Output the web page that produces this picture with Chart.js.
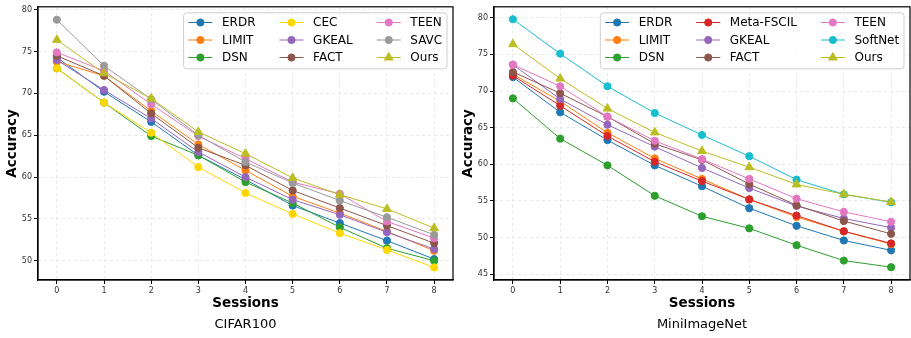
<!DOCTYPE html>
<html>
<head>
<meta charset="utf-8">
<script src="https://cdn.jsdelivr.net/npm/chart.js@4.4.1/dist/chart.umd.min.js"></script>
<style>
  body { margin: 0; background: #fff; }
  .panel { position: absolute; top: 0; width: 455px; height: 338px; }
</style>
</head>
<body>
<div class="panel" style="left:0"><canvas id="cifarChart" width="455" height="338"></canvas></div>
<div class="panel" style="left:456px"><canvas id="miniChart" width="455" height="338"></canvas></div>
<script>
// sessions on the x axis
const sessions = [0, 1, 2, 3, 4, 5, 6, 7, 8];

// CIFAR100 accuracies
const cifarMethods = ['ERDR', 'LIMIT', 'DSN', 'CEC', 'GKEAL', 'FACT', 'TEEN', 'SAVC', 'Ours'];
const cifarErdr  = [74.3, 70.2, 66.6, 62.6, 59.7, 56.6, 54.5, 52.4, 50.2];
const cifarLimit = [73.8, 72.1, 67.9, 63.9, 60.8, 57.7, 55.7, 53.5, 51.2];
const cifarDsn   = [73.0, 68.9, 64.9, 62.6, 59.4, 56.9, 54.0, 51.5, 50.0];
const cifarCec   = [73.0, 68.9, 65.3, 61.2, 58.1, 55.6, 53.3, 51.3, 49.2];
const cifarGkeal = [74.0, 70.4, 67.0, 63.0, 60.0, 57.3, 55.5, 53.4, 51.4];
const cifarFact  = [74.5, 72.1, 67.6, 63.5, 61.4, 58.4, 56.3, 54.2, 52.1];
const cifarTeen  = [74.9, 72.7, 68.7, 64.9, 62.2, 59.4, 58.0, 54.7, 52.7];
const cifarSavc  = [78.8, 73.3, 69.3, 65.0, 61.8, 59.3, 57.2, 55.2, 53.1];
const cifarOurs  = [76.4, 72.4, 69.4, 65.4, 62.8, 59.9, 57.9, 56.2, 53.9];
const cifarYTicks = [50, 55, 60, 65, 70, 75, 80];

// MiniImageNet accuracies
const miniMethods = ['ERDR', 'LIMIT', 'DSN', 'Meta-FSCIL', 'GKEAL', 'FACT', 'TEEN', 'SoftNet', 'Ours'];
const miniErdr    = [71.9, 67.1, 63.3, 59.85, 57.0, 54.0, 51.6, 49.6, 48.25];
const miniLimit   = [72.3, 68.6, 64.3, 60.8, 58.0, 55.2, 52.8, 50.85, 49.1];
const miniDsn     = [69.0, 63.5, 59.85, 55.7, 52.9, 51.25, 48.95, 46.85, 45.95];
const miniMeta    = [72.1, 68.0, 63.85, 60.35, 57.7, 55.2, 53.0, 50.85, 49.2];
const miniGkeal   = [73.6, 68.9, 65.4, 62.4, 59.5, 56.75, 54.3, 52.6, 51.35];
const miniFact    = [72.6, 69.7, 66.5, 62.8, 60.6, 57.3, 54.4, 52.25, 50.5];
const miniTeen    = [73.6, 70.65, 66.5, 63.2, 60.7, 58.0, 55.3, 53.5, 52.15];
const miniSoftnet = [79.8, 75.1, 70.65, 67.0, 64.0, 61.1, 57.9, 55.9, 54.8];
const miniOurs    = [76.4, 71.7, 67.6, 64.35, 61.8, 59.6, 57.25, 55.9, 54.85];
const miniYTicks = [45, 50, 55, 60, 65, 70, 75, 80];

const methodColors = {
    'ERDR': '#1f77b4', 'LIMIT': '#ff7f0e', 'DSN': '#2ca02c', 'CEC': '#ffd700',
    'Meta-FSCIL': '#d62728', 'GKEAL': '#9467bd', 'FACT': '#8c564b', 'TEEN': '#e377c2',
    'SAVC': '#9a9a9a', 'SoftNet': '#17becf', 'Ours': '#bcbd22'
};

const FONT = "'DejaVu Sans', sans-serif";
Chart.defaults.font.family = FONT;

// frame, matplotlib-like legend and caption
const decorPlugin = {
    id: 'decor',
    afterDraw(chart, args, opts) {
        const ctx = chart.ctx;
        const area = chart.chartArea;
        ctx.save();
        ctx.strokeStyle = '#000';
        ctx.lineWidth = 1.2;
        ctx.strokeRect(area.left, area.top, area.right - area.left, area.bottom - area.top);

        // legend: 3 rows, filled column by column
        const fs = 12;
        ctx.font = fs + 'px ' + FONT;
        const ds = chart.data.datasets;
        const cols = [];
        for (let c = 0; c * 3 < ds.length; c++) cols.push(ds.slice(c * 3, c * 3 + 3));
        const pad = 0.4 * fs, hl = 2 * fs, htp = 0.8 * fs, csp = 2 * fs, rowH = 17.5;
        const colW = cols.map(col => hl + htp + Math.max(...col.map(d => ctx.measureText(d.label).width)));
        const boxW = 2 * pad + colW.reduce((a, b) => a + b, 0) + csp * (cols.length - 1);
        const boxH = 56;
        const right = area.right - 0.5 * fs;
        const top = area.top + 0.5 * fs;
        const left = right - boxW;
        ctx.beginPath();
        ctx.roundRect(left, top, boxW, boxH, 3);
        ctx.fillStyle = 'rgba(255,255,255,0.8)';
        ctx.fill();
        ctx.strokeStyle = '#d0d0d0';
        ctx.lineWidth = 1;
        ctx.stroke();

        let x = left + pad;
        cols.forEach((col, c) => {
            col.forEach((d, r) => {
                const y = top + 9.7 + r * rowH;
                ctx.strokeStyle = d.borderColor;
                ctx.fillStyle = d.borderColor;
                ctx.lineWidth = 1;
                ctx.beginPath();
                ctx.moveTo(x, y);
                ctx.lineTo(x + hl, y);
                ctx.stroke();
                Chart.helpers.drawPoint(ctx, {
                    pointStyle: d.pointStyle, radius: d.pointRadius, rotation: 0, borderWidth: 1
                }, x + hl / 2, y);
                ctx.fillStyle = '#000';
                ctx.textBaseline = 'middle';
                ctx.textAlign = 'left';
                ctx.fillText(d.label, x + hl + htp, y + 0.5);
            });
            x += colW[c] + csp;
        });

        // caption under the axis
        ctx.font = '13px ' + FONT;
        ctx.fillStyle = '#000';
        ctx.textAlign = 'center';
        ctx.textBaseline = 'middle';
        ctx.fillText(opts.caption, (area.left + area.right) / 2, 325);
        ctx.restore();
    }
};

function makeChart(canvasId, caption, methods, series, yTicks, yMin, yMax, padRight) {
    const canvas = document.getElementById(canvasId);
    if (!canvas) {
        console.error('canvas not found: ' + canvasId);
        return;
    }
    const datasets = methods.map((name, i) => ({
        label: name,
        data: series[i].map((v, j) => ({ x: sessions[j], y: v })),
        borderColor: methodColors[name],
        backgroundColor: methodColors[name],
        borderWidth: 1,
        pointStyle: name === 'Ours' ? 'triangle' : 'circle',
        pointRadius: name === 'Ours' ? 5 : 3.6,
        pointBorderWidth: 1,
        tension: 0,
        order: methods.length - 1 - i // later series on top
    }));

    new Chart(canvas.getContext('2d'), {
        type: 'line',
        data: { datasets: datasets },
        options: {
            responsive: false,
            animation: false,
            layout: { autoPadding: false, padding: { top: 4, right: padRight, bottom: 22, left: 0 } },
            plugins: {
                legend: { display: false },
                tooltip: { enabled: false },
                decor: { caption: caption }
            },
            scales: {
                x: {
                    type: 'linear',
                    min: -0.4,
                    max: 8.4,
                    afterBuildTicks: s => { s.ticks = sessions.map(v => ({ value: v })); },
                    afterFit: s => { s.height = 36; },
                    ticks: { color: '#333', font: { size: 8 }, padding: 2, maxRotation: 0 },
                    grid: { color: '#e2e2e2', lineWidth: 0.8, tickColor: '#000', tickLength: 4, tickWidth: 1 },
                    border: { color: '#000', width: 1.2, dash: [3, 3] },
                    title: { display: true, text: 'Sessions', color: '#000', font: { size: 13.5, weight: 'bold' }, padding: { top: 4, bottom: 4 } }
                },
                y: {
                    min: yMin,
                    max: yMax,
                    afterBuildTicks: s => { s.ticks = yTicks.map(v => ({ value: v })); },
                    afterFit: s => { s.width = 38; },
                    ticks: { color: '#333', font: { size: 8 }, padding: 2 },
                    grid: { color: '#e2e2e2', lineWidth: 0.8, tickColor: '#000', tickLength: 4, tickWidth: 1 },
                    border: { color: '#000', width: 1.2, dash: [3, 3] },
                    title: { display: true, text: 'Accuracy', color: '#000', font: { size: 13.5, weight: 'bold' }, padding: { top: 4, bottom: 4 } }
                }
            }
        },
        plugins: [decorPlugin]
    });
}

makeChart('cifarChart', 'CIFAR100', cifarMethods,
    [cifarErdr, cifarLimit, cifarDsn, cifarCec, cifarGkeal, cifarFact, cifarTeen, cifarSavc, cifarOurs],
    cifarYTicks, 47.7, 80.35, 2);

makeChart('miniChart', 'MiniImageNet', miniMethods,
    [miniErdr, miniLimit, miniDsn, miniMeta, miniGkeal, miniFact, miniTeen, miniSoftnet, miniOurs],
    miniYTicks, 44.2, 81.5, 1);
</script>
</body>
</html>
